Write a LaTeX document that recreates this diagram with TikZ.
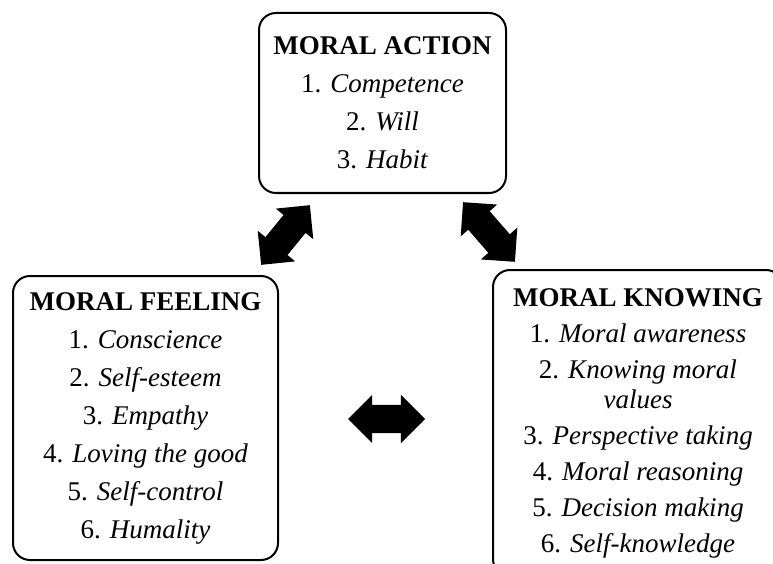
\documentclass[tikz,border=0pt]{standalone}
\usepackage{fontspec}
\setmainfont{Liberation Serif}
\usetikzlibrary{shapes.arrows}
\tikzset{
  box/.style={draw=black, line width=2pt, rounded corners=17pt, align=center,
    font=\fontsize{27}{30}\selectfont, inner sep=0pt},
  dblarr/.style={double arrow, fill=black, draw=none, inner xsep=0pt, inner ysep=14pt,
    double arrow head extend=10pt, double arrow tip angle=90}
}
\begin{document}
\begin{tikzpicture}[x=1pt,y=-1pt]
\useasboundingbox (0,0) rectangle (773,564);
\clip (0,0) rectangle (773,564);
\node[box, minimum width=247pt, minimum height=180pt] (action) at (382.5,103)
  {\textbf{MORAL ACTION}\\[8pt]
   1. \textit{Competence}\\[8pt]
   2. \textit{Will}\\[8pt]
   3. \textit{Habit}};
\node[box, minimum width=265pt, minimum height=284pt] (feeling) at (145.5,418)
  {\textbf{MORAL FEELING}\\[8pt]
   1. \textit{Conscience}\\[8pt]
   2. \textit{Self-esteem}\\[8pt]
   3. \textit{Empathy}\\[8pt]
   4. \textit{Loving the good}\\[8pt]
   5. \textit{Self-control}\\[8pt]
   6. \textit{Humality}};
\node[box, minimum width=290pt, minimum height=306pt] (knowing) at (638,423)
  {\textbf{MORAL KNOWING}\\[6pt]
   1. \textit{Moral awareness}\\[6pt]
   2. \textit{Knowing moral}\\
   \textit{values}\\[6pt]
   3. \textit{Perspective taking}\\[6pt]
   4. \textit{Moral reasoning}\\[6pt]
   5. \textit{Decision making}\\[6pt]
   6. \textit{Self-knowledge}};
\node[dblarr, minimum height=77pt, rotate=50.8] (af) at (285.5,235) {};
\node[dblarr, minimum height=79pt, rotate=-49] (ak) at (489,232) {};
\node[dblarr, minimum height=77pt] (fk) at (386.5,419) {};
\end{tikzpicture}
\end{document}
